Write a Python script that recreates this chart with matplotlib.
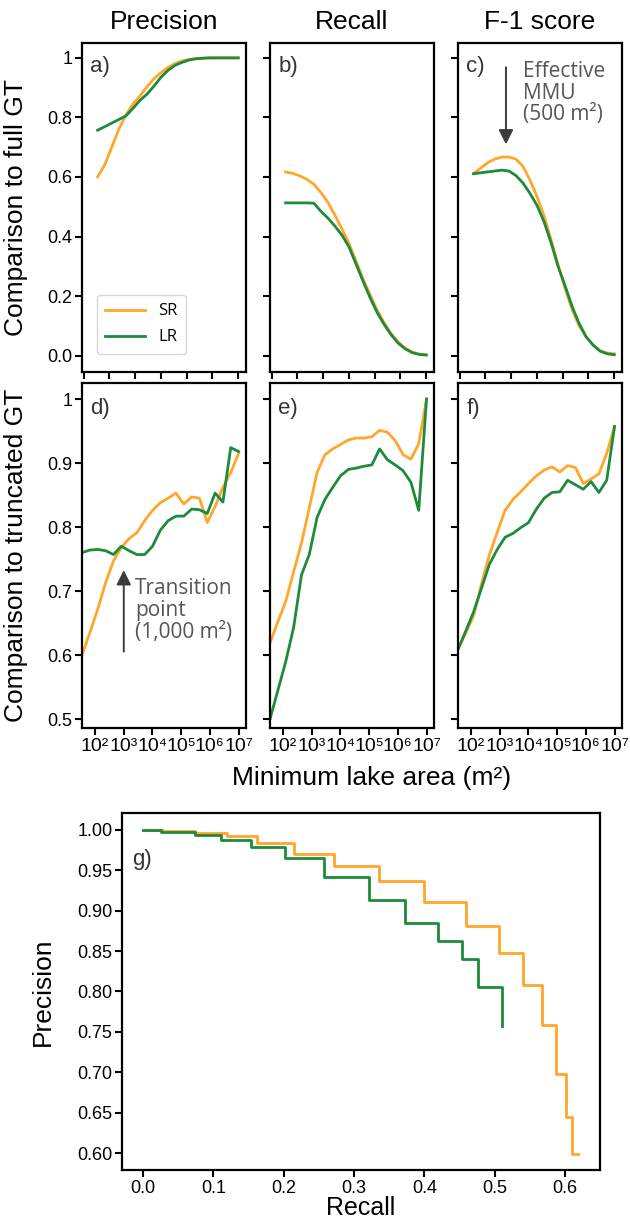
import numpy as np
import matplotlib.pyplot as plt

plt.rcParams['font.family'] = ['Liberation Sans', 'DejaVu Sans']

ORANGE = '#FFA62B'
GREEN = '#1E8A3C'
TICK_FONT = ['Liberation Sans', 'DejaVu Sans']
NOTE_FONT = ['Open Sans', 'DejaVu Sans']

# minimum lake area thresholds (m2)
min_area = [35, 66, 124, 233, 437, 818, 1531, 2867, 5370, 10060, 18840, 35280,
            66070, 123700, 231700, 434000, 812800, 1522000, 2851000, 5340000, 10000000]

# comparison to full GT
full_prec_sr = [0.60, 0.64, 0.70, 0.76, 0.808, 0.845, 0.872, 0.903, 0.93, 0.95, 0.968,
                0.981, 0.99, 0.995, 0.998, 0.999, 1.0, 1.0, 1.0, 1.0, 1.0]
full_prec_lr = [0.757, 0.769, 0.781, 0.793, 0.805, 0.83, 0.857, 0.878, 0.905, 0.935, 0.958,
                0.975, 0.985, 0.993, 0.997, 0.999, 1.0, 1.0, 1.0, 1.0, 1.0]
full_rec_sr = [0.617, 0.612, 0.604, 0.592, 0.576, 0.548, 0.515, 0.472, 0.425, 0.377, 0.318,
               0.258, 0.205, 0.153, 0.11, 0.074, 0.046, 0.025, 0.012, 0.005, 0.003]
full_rec_lr = [0.513, 0.513, 0.513, 0.513, 0.512, 0.485, 0.462, 0.435, 0.405, 0.365, 0.308,
               0.25, 0.195, 0.145, 0.105, 0.07, 0.042, 0.023, 0.01, 0.004, 0.002]
full_f1_sr = [0.611, 0.63, 0.648, 0.66, 0.667, 0.667, 0.66, 0.636, 0.59, 0.535, 0.47,
              0.39, 0.305, 0.225, 0.155, 0.1, 0.063, 0.036, 0.016, 0.009, 0.006]
full_f1_lr = [0.611, 0.614, 0.617, 0.62, 0.623, 0.62, 0.605, 0.58, 0.545, 0.505, 0.45,
              0.38, 0.30, 0.235, 0.165, 0.108, 0.063, 0.035, 0.015, 0.006, 0.003]

# comparison to truncated GT
trunc_prec_sr = [0.60, 0.635, 0.672, 0.713, 0.747, 0.768, 0.782, 0.791, 0.81, 0.826, 0.838,
                 0.845, 0.853, 0.836, 0.847, 0.845, 0.807, 0.832, 0.862, 0.885, 0.915]
trunc_prec_lr = [0.760, 0.764, 0.765, 0.763, 0.757, 0.770, 0.763, 0.757, 0.757, 0.77, 0.795,
                 0.81, 0.817, 0.817, 0.828, 0.827, 0.821, 0.853, 0.839, 0.924, 0.918]
trunc_rec_sr = [0.619, 0.652, 0.684, 0.73, 0.775, 0.83, 0.885, 0.913, 0.922, 0.929, 0.936,
                0.939, 0.939, 0.941, 0.951, 0.948, 0.935, 0.913, 0.906, 0.93, 1.0]
trunc_rec_lr = [0.50, 0.545, 0.59, 0.643, 0.725, 0.757, 0.815, 0.843, 0.862, 0.88, 0.89,
                0.892, 0.895, 0.897, 0.922, 0.905, 0.897, 0.888, 0.870, 0.826, 1.0]
trunc_f1_sr = [0.609, 0.635, 0.662, 0.712, 0.757, 0.792, 0.826, 0.843, 0.855, 0.868, 0.88,
               0.889, 0.894, 0.886, 0.896, 0.893, 0.868, 0.875, 0.883, 0.915, 0.957]
trunc_f1_lr = [0.609, 0.638, 0.668, 0.705, 0.742, 0.765, 0.784, 0.79, 0.799, 0.807, 0.828,
               0.845, 0.854, 0.855, 0.873, 0.866, 0.859, 0.871, 0.854, 0.873, 0.957]

# precision-recall curves (step corners)
pr_recall_sr = [0, 0.028, 0.074, 0.12, 0.162, 0.215, 0.272, 0.336, 0.399, 0.46, 0.507,
                0.541, 0.567, 0.587, 0.601, 0.61, 0.618]
pr_prec_sr = [1.0, 0.999, 0.996, 0.992, 0.984, 0.970, 0.955, 0.937, 0.911, 0.881, 0.848,
              0.808, 0.758, 0.698, 0.645, 0.599, 0.599]
pr_recall_lr = [0, 0.026, 0.048, 0.074, 0.111, 0.154, 0.202, 0.258, 0.321, 0.373, 0.419,
                0.454, 0.476, 0.511]
pr_prec_lr = [1.0, 0.998, 0.997, 0.994, 0.988, 0.979, 0.965, 0.942, 0.913, 0.885, 0.863,
              0.840, 0.805, 0.757]

col_titles = ['Precision', 'Recall', 'F-1 score']
panel_tags = ['a)', 'b)', 'c)', 'd)', 'e)', 'f)']
log_ticks = [1e2, 1e3, 1e4, 1e5, 1e6, 1e7]
log_labels = ['10²', '10³', '10⁴', '10⁵', '10⁶', '10⁷']

W, H = 630, 1224
fig = plt.figure(figsize=(W / 100, H / 100), dpi=100)


def px_axes(x0, y0, x1, y1):
    return fig.add_axes([x0 / W, 1 - y1 / H, (x1 - x0) / W, (y1 - y0) / H])


def style(ax):
    for s in ax.spines.values():
        s.set_linewidth(1.6)
    ax.tick_params(direction='out', length=5, width=1.5, labelsize=13, pad=2)


cols = [82, 270, 458]
rows = [(43, 372), (383, 728)]
series = [[(full_prec_sr, full_prec_lr), (full_rec_sr, full_rec_lr), (full_f1_sr, full_f1_lr)],
          [(trunc_prec_sr, trunc_prec_lr), (trunc_rec_sr, trunc_rec_lr), (trunc_f1_sr, trunc_f1_lr)]]

axes = []
for r in range(2):
    for c in range(3):
        ax = px_axes(cols[c], rows[r][0], cols[c] + 164, rows[r][1])
        style(ax)
        sr, lr = series[r][c]
        ax.plot(min_area, sr, color=ORANGE, lw=2.0, label='SR')
        ax.plot(min_area, lr, color=GREEN, lw=2.0, label='LR')
        ax.set_xscale('log')
        ax.minorticks_off()
        if r == 0:
            ax.set_xlim(10 ** 0.94, 10 ** 7.3)
            ax.set_xticks([1e1] + log_ticks)
            ax.set_xticklabels([])
            ax.set_ylim(-0.055, 1.05)
            ax.set_yticks([0, 0.2, 0.4, 0.6, 0.8, 1.0])
            ylab = ['0.0', '0.2', '0.4', '0.6', '0.8', '1']
            ax.set_title(col_titles[c], fontsize=19, pad=10)
        else:
            ax.set_xlim(min_area[0], 10 ** 7.26)
            ax.set_xticks(log_ticks)
            ax.set_xticklabels(log_labels, fontfamily=TICK_FONT, fontsize=14)
            ax.set_ylim(0.486, 1.025)
            ax.set_yticks([0.5, 0.6, 0.7, 0.8, 0.9, 1.0])
            ylab = ['0.5', '0.6', '0.7', '0.8', '0.9', '1']
        if c == 0:
            ax.set_yticklabels(ylab, fontfamily=TICK_FONT, fontsize=13)
        else:
            ax.set_yticklabels([])
        ax.text(0.05, 0.93 if r == 0 else 0.925, panel_tags[r * 3 + c], transform=ax.transAxes,
                fontsize=16, color='#333333', va='center', ha='left')
        axes.append(ax)

axes[0].set_ylabel('Comparison to full GT', fontsize=19)
axes[0].yaxis.set_label_coords(-0.33, 0.5)
axes[3].set_ylabel('Comparison to truncated GT', fontsize=19)
axes[3].yaxis.set_label_coords(-0.33, 0.5)

leg = axes[0].legend(loc='lower left', bbox_to_anchor=(0.04, 0.03),
                     handlelength=2.4, borderpad=0.5, labelspacing=0.6,
                     prop={'family': NOTE_FONT, 'size': 12})
leg.get_frame().set_edgecolor('#cccccc')

fig.text(372 / W, 1 - 778 / H, 'Minimum lake area (m²)', fontsize=19, ha='center', va='center')

# annotations
axes[2].annotate('', xy=(10 ** 2.8, 0.70), xytext=(10 ** 2.8, 0.978),
                 arrowprops=dict(arrowstyle='-|>', color='#3c3c3c', lw=1.4, mutation_scale=22))
axes[2].text(10 ** 3.45, 0.99, 'Effective\nMMU\n(500 m²)', fontsize=15, color='#555555',
             family=NOTE_FONT, va='top', ha='left', linespacing=1.05)
axes[3].annotate('', xy=(1e3, 0.737), xytext=(1e3, 0.601),
                 arrowprops=dict(arrowstyle='-|>', color='#3c3c3c', lw=1.4, mutation_scale=22))
axes[3].text(10 ** 3.4, 0.72, 'Transition\npoint\n(1,000 m²)', fontsize=15, color='#555555',
             family=NOTE_FONT, va='top', ha='left', linespacing=1.05)

# precision-recall panel
axg = px_axes(122, 813, 600, 1170)
style(axg)
axg.step(pr_recall_sr, pr_prec_sr, where='post', color=ORANGE, lw=2.0)
axg.step(pr_recall_lr, pr_prec_lr, where='post', color=GREEN, lw=2.0)
axg.set_xlim(-0.03, 0.65)
axg.set_ylim(0.579, 1.021)
axg.set_xticks([0, 0.1, 0.2, 0.3, 0.4, 0.5, 0.6])
axg.set_xticklabels(['0.0', '0.1', '0.2', '0.3', '0.4', '0.5', '0.6'], fontfamily=TICK_FONT, fontsize=13)
axg.set_yticks([0.60, 0.65, 0.70, 0.75, 0.80, 0.85, 0.90, 0.95, 1.00])
axg.set_yticklabels(['%.2f' % v for v in [0.60, 0.65, 0.70, 0.75, 0.80, 0.85, 0.90, 0.95, 1.00]],
                    fontfamily=TICK_FONT, fontsize=13)
axg.set_xlabel('Recall', fontsize=18)
axg.xaxis.set_label_coords(0.5, -0.074)
axg.set_ylabel('Precision', fontsize=19)
axg.yaxis.set_label_coords(-0.14, 0.5)
axg.text(0.022, 0.87, 'g)', transform=axg.transAxes, fontsize=16, color='#333333', va='center')

fig.savefig('out.png', dpi=100)
